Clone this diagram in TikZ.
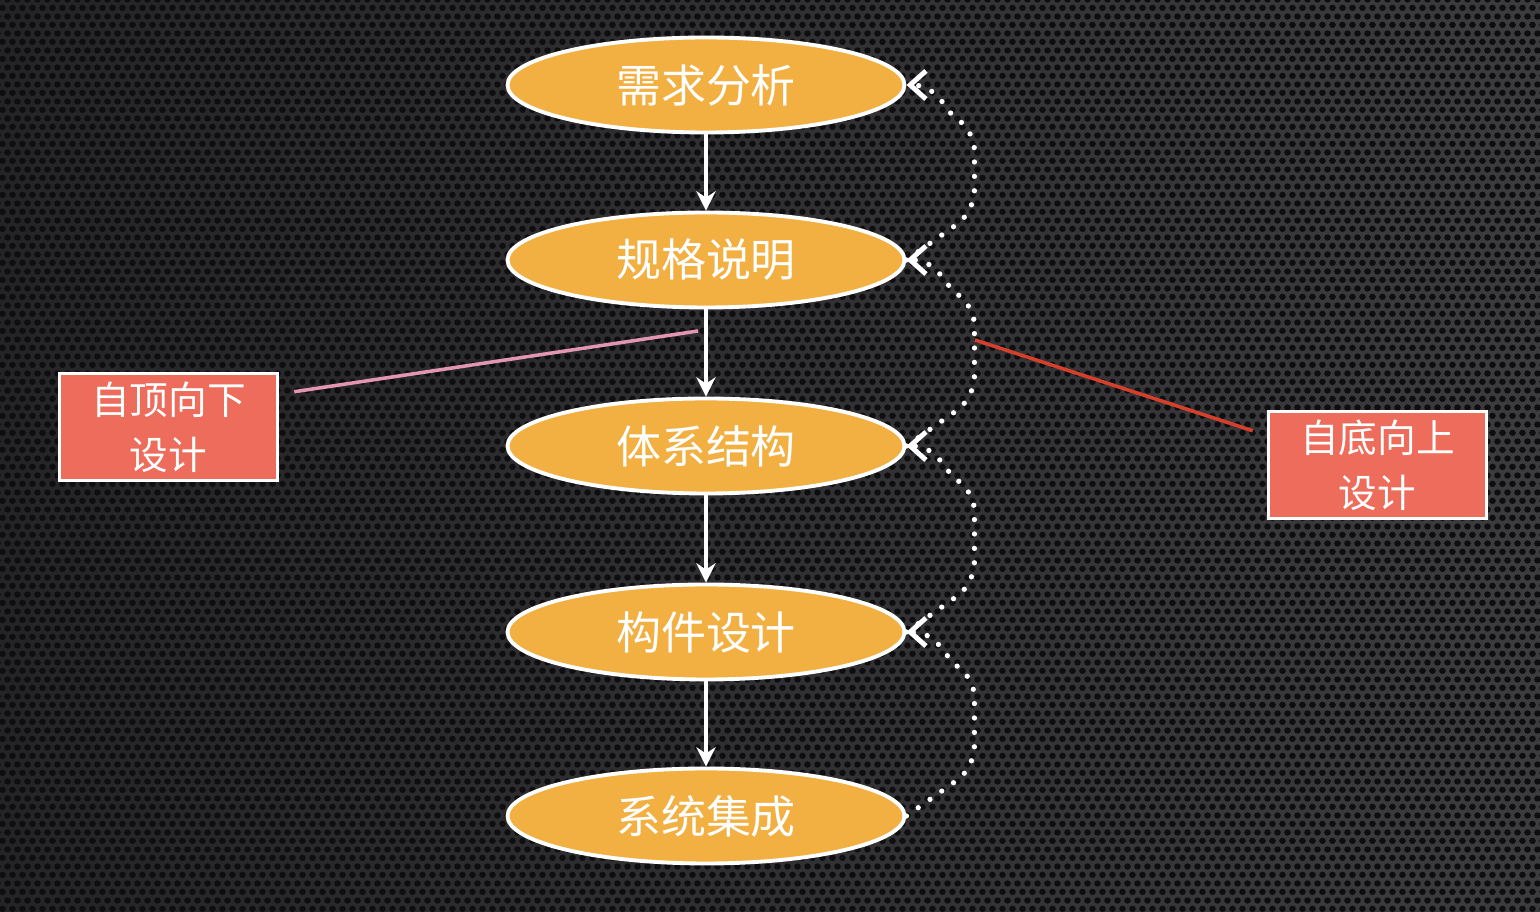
\documentclass[tikz,border=0pt]{standalone}
\usepackage{fontspec}
\newfontfamily\cjk{Noto Sans CJK SC}
\usetikzlibrary{arrows.meta,calc,shapes.geometric,patterns.meta}

\definecolor{bgdark}{RGB}{36,36,38}
\definecolor{bglight}{RGB}{60,60,63}
\definecolor{bghole}{RGB}{14,14,16}
\definecolor{stagefill}{RGB}{243,176,66}
\definecolor{boxfill}{RGB}{237,108,92}
\definecolor{topdownline}{RGB}{226,150,175}
\definecolor{bottomupline}{RGB}{214,64,42}

\tikzdeclarepattern{
  name=holes, type=uncolored,
  bounding box={(0,0) and (1mm,1.732mm)},
  tile size={(1mm,1.732mm)},
  code={
    \pgfpathcircle{\pgfpoint{0.25mm}{0.433mm}}{0.33mm}
    \pgfpathcircle{\pgfpoint{1.25mm}{0.433mm}}{0.33mm}
    \pgfpathcircle{\pgfpoint{0.75mm}{1.299mm}}{0.33mm}
    \pgfpathcircle{\pgfpoint{-0.25mm}{1.299mm}}{0.33mm}
    \pgfusepath{fill}
  }
}

\tikzset{
  stage/.style={ellipse, draw=white, line width=1.1pt, fill=stagefill,
    minimum width=3.97cm, minimum height=0.95cm, inner sep=0pt,
    text=white, font=\cjk\fontsize{12.8}{15}\selectfont},
  approach/.style={rectangle, draw=white, line width=1pt, fill=boxfill,
    minimum width=2.18cm, minimum height=1.07cm, inner sep=0pt,
    text=white, align=center, font=\cjk\fontsize{11}{15.6}\selectfont},
  flow/.style={white, line width=1.1pt, ->},
  backflow/.style={white, line width=1.5pt, dash pattern=on 0pt off 4.1pt,
    line cap=round, rounded corners=6pt,
    -{Straight Barb[length=4.5pt,width=8pt,line width=1.4pt]}}
}

\begin{document}
\begin{tikzpicture}[>={Stealth[length=5.5pt,width=5.5pt]}]
  \shade[left color=bgdark, right color=bglight] (0,0) rectangle (15.4,9.12);
  \fill[pattern=holes, pattern color=bghole] (0,0) rectangle (15.4,9.12);

  \node[stage] (need) at (7.06,8.27) {需求分析};
  \node[stage] (spec) at (7.06,6.52) {规格说明};
  \node[stage] (arch) at (7.06,4.66) {体系结构};
  \node[stage] (comp) at (7.06,2.80) {构件设计};
  \node[stage] (integ) at (7.06,0.96) {系统集成};

  \draw[flow] (need) -- (spec);
  \draw[flow] (spec) -- (arch);
  \draw[flow] (arch) -- (comp);
  \draw[flow] (comp) -- (integ);

  \foreach \lo/\hi in {spec/need, arch/spec, comp/arch, integ/comp}
    \draw[backflow] (\lo.east) -- ($(\lo.east)+(0.68,0.48)$)
      -- ($(\hi.east)+(0.68,-0.44)$) to[out=150,in=0] (\hi.east);

  \node[approach] (topdown) at (1.685,4.85) {自顶向下\\设计};
  \node[approach] (bottomup) at (13.775,4.47) {自底向上\\设计};

  \coordinate (tdtip) at (6.98,5.81);
  \coordinate (butip) at (9.75,5.72);
  \draw[topdownline, line width=1pt] ([shift={(0.15,-0.2)}]topdown.north east) -- (tdtip);
  \draw[bottomupline, line width=1pt] (butip) -- ([shift={(-0.14,-0.21)}]bottomup.north west);
\end{tikzpicture}
\end{document}
